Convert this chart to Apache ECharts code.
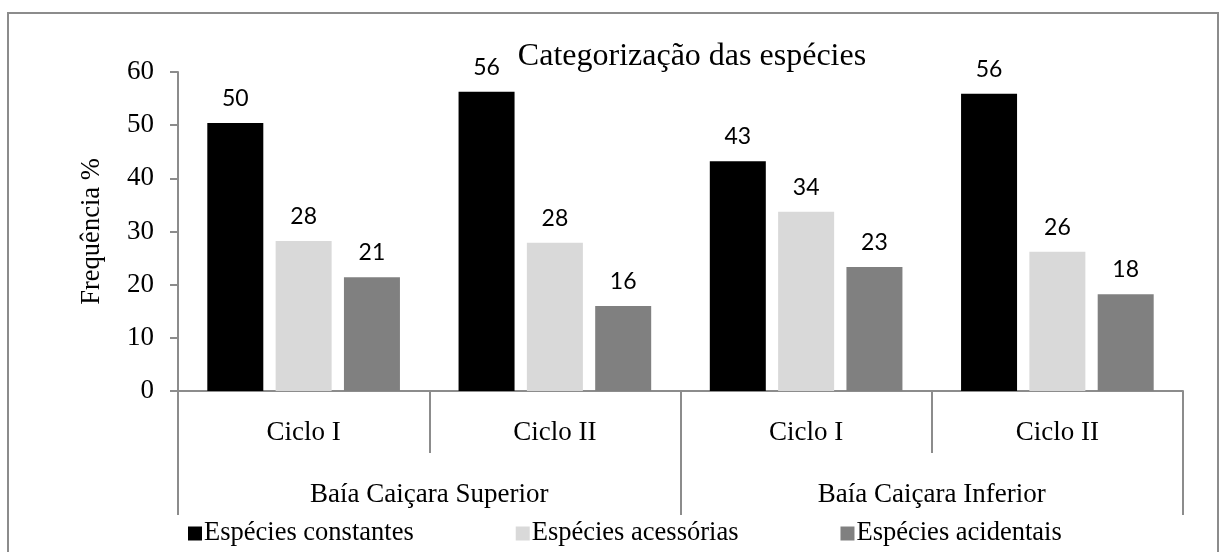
<!DOCTYPE html>
<html>
<head>
<meta charset="utf-8">
<script src="https://cdn.jsdelivr.net/npm/echarts@6/dist/echarts.min.js"></script>
<style>
	html, body { margin: 0; padding: 0; background: #fff; }
	#chart { width: 1220px; height: 552px; }
</style>
</head>
<body>
<div id="chart"></div>
<script>
	// categorias (nível interno / externo)
	const ciclos = ['Ciclo I', 'Ciclo II', 'Ciclo I', 'Ciclo II'];
	const baias = ['Baía Caiçara Superior', 'Baía Caiçara Inferior'];
	const seriesNames = ['Espécies constantes', 'Espécies acessórias', 'Espécies acidentais'];
	const constantes = [50.4, 56.3, 43.2, 55.9];
	const acessorias = [28.2, 27.9, 33.7, 26.2];
	const acidentais = [21.4, 16.0, 23.3, 18.2];
	const colors = ['#000000', '#d9d9d9', '#808080'];

	const serif = '"Liberation Serif", "Times New Roman", serif';
	const axisGray = '#8c8c8c';

	const chart = echarts.init(document.getElementById('chart'));

	function makeBar(name, data, color) {
		return {
			name: name,
			type: 'bar',
			data: data,
			barWidth: 56,
			barGap: '22%',
			itemStyle: { color: color },
			label: {
				show: true,
				position: 'top',
				distance: 13,
				color: '#000',
				fontFamily: 'Lato, sans-serif',
				fontSize: 23,
				formatter: p => Math.round(p.value)
			}
		};
	}

	chart.setOption({
		animation: false,
		title: {
			text: 'Categorização das espécies',
			left: 687,
			top: 36,
			textAlign: 'center',
			textStyle: { fontFamily: serif, fontSize: 32, fontWeight: 'normal', color: '#000' }
		},
		legend: {
			left: 183,
			top: 515,
			itemGap: 102,
			itemWidth: 14,
			itemHeight: 14,
			itemStyle: { borderWidth: 0 },
			icon: 'rect',
			textStyle: { fontFamily: serif, fontSize: 26.5, color: '#000', padding: [0, 0, 0, -3] },
			data: seriesNames
		},
		graphic: [{
			type: 'rect',
			shape: { x: 8, y: 13, width: 1210, height: 560 },
			style: { fill: 'none', stroke: axisGray, lineWidth: 2 },
			silent: true
		}],
		grid: { left: 178, right: 37, top: 72, bottom: 161 },
		xAxis: [{
			type: 'category',
			data: ciclos.map((c, i) => i + '|' + c),
			axisLine: { lineStyle: { color: axisGray, width: 2 } },
			axisTick: { show: true, interval: 0, length: 62, lineStyle: { color: axisGray, width: 2 } },
			axisLabel: {
				interval: 0,
				margin: 28,
				fontFamily: serif,
				fontSize: 27,
				color: '#000',
				formatter: v => v.split('|')[1]
			}
		}, {
			type: 'category',
			position: 'bottom',
			data: baias,
			axisLine: { show: false },
			axisTick: { show: true, interval: 0, length: 124, lineStyle: { color: axisGray, width: 2 } },
			axisLabel: {
				interval: 0,
				margin: 90,
				fontFamily: serif,
				fontSize: 27,
				color: '#000'
			}
		}],
		yAxis: {
			type: 'value',
			min: 0,
			max: 60,
			interval: 10,
			name: 'Frequência %',
			nameLocation: 'middle',
			nameGap: 72,
			nameTextStyle: { fontFamily: serif, fontSize: 26.5, color: '#000' },
			axisLine: { show: true, lineStyle: { color: axisGray, width: 2 } },
			axisTick: { show: true, length: 8, lineStyle: { color: axisGray, width: 2 } },
			splitLine: { show: false },
			axisLabel: { margin: 24, fontFamily: serif, fontSize: 27, color: '#000' }
		},
		series: [
			makeBar(seriesNames[0], constantes, colors[0]),
			makeBar(seriesNames[1], acessorias, colors[1]),
			makeBar(seriesNames[2], acidentais, colors[2])
		]
	});
</script>
</body>
</html>
